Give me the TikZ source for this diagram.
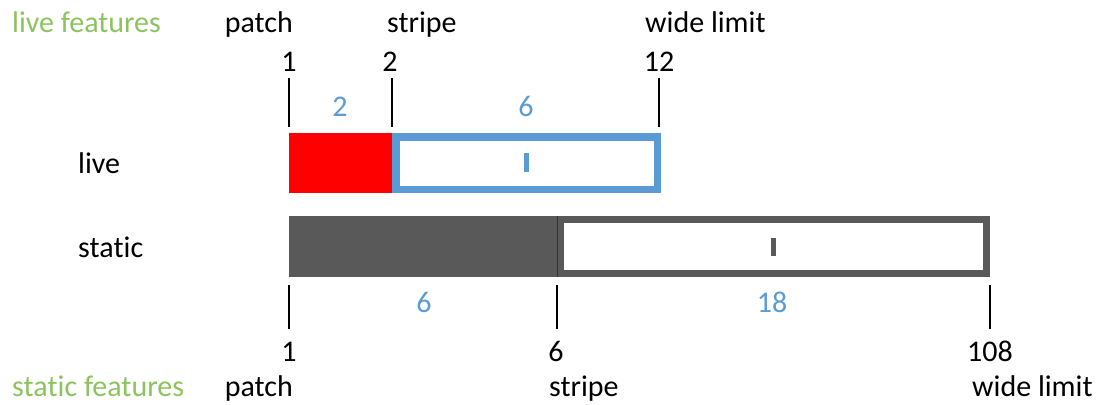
\documentclass[tikz,border=0pt]{standalone}
\usepackage{fontspec}
\setmainfont{Carlito}[Ligatures={NoCommon,NoRequired,NoContextual}]
\definecolor{lfgreen}{RGB}{140,195,95}
\definecolor{lblue}{RGB}{91,155,213}
\definecolor{dgray}{RGB}{89,89,89}
\begin{document}
\begin{tikzpicture}[x=1pt,y=-1pt,
  txt/.style={inner sep=0pt, font=\fontsize{30}{36}\selectfont},
  gtxt/.style={txt, text=lfgreen},
  btxt/.style={txt, text=lblue},
  tickline/.style={draw=black, line width=1.1pt}]
\useasboundingbox (0,0) rectangle (1099,404);

% top labels
\node[gtxt, anchor=base west] (lf) at (12,33) {live features};
\node[txt, anchor=base east] (tpatch) at (293,33) {patch};
\node[txt, anchor=base west] (tstripe) at (387,33) {stripe};
\node[txt, anchor=base west] (twide) at (645,33) {wide limit};
\node[txt, anchor=base] (n1) at (289,71) {1};
\node[txt, anchor=base] (n2) at (390,71) {2};
\node[txt, anchor=base] (n12) at (659,71) {12};

% top ticks
\coordinate (ta1) at (289,78);  \coordinate (tb1) at (289,127);
\coordinate (ta2) at (392,78);  \coordinate (tb2) at (392,127);
\coordinate (ta3) at (659,78);  \coordinate (tb3) at (659,127);
\draw[tickline] (ta1) -- (tb1);
\draw[tickline] (ta2) -- (tb2);
\draw[tickline] (ta3) -- (tb3);

\node[btxt, anchor=base] (b2) at (340,116) {2};
\node[btxt, anchor=base] (b6) at (526,116) {6};

% row labels
\node[txt, anchor=base west] (live) at (78,173) {live};
\node[txt, anchor=base west] (static) at (78,257) {sta\kern0pt tic};

% live bar
\fill[red] (289,133) rectangle (392,193);
\draw[lblue, line width=7.5pt] (395.75,136.75) rectangle (657.25,189.25);
\fill[lblue] (523.5,153) rectangle (528.5,172);

% static bar
\fill[dgray] (289,216) rectangle (557,277);
\draw[dgray, line width=7pt] (560.5,219.5) rectangle (986.5,273.5);
\draw[black!80, line width=0.8pt] (557,216) -- (557,277);
\fill[dgray] (770.5,238) rectangle (775.5,256);

% bottom ticks
\coordinate (ba1) at (289,285);  \coordinate (bb1) at (289,329);
\coordinate (ba2) at (557,285);  \coordinate (bb2) at (557,329);
\coordinate (ba3) at (990,285);  \coordinate (bb3) at (990,329);
\draw[tickline] (ba1) -- (bb1);
\draw[tickline] (ba2) -- (bb2);
\draw[tickline] (ba3) -- (bb3);

\node[btxt, anchor=base] (s6) at (424,312) {6};
\node[btxt, anchor=base] (s18) at (772,312) {18};

% bottom labels
\node[txt, anchor=base] (m1) at (289,361) {1};
\node[txt, anchor=base] (m6) at (556,361) {6};
\node[txt, anchor=base] (m108) at (990,361) {108};
\node[gtxt, anchor=base west] (sf) at (12,396) {sta\kern0pt tic features};
\node[txt, anchor=base east] (bpatch) at (293,396) {patch};
\node[txt, anchor=base west] (bstripe) at (549,396) {stripe};
\node[txt, anchor=base west] (bwide) at (972,396) {wide limit};
\end{tikzpicture}
\end{document}
